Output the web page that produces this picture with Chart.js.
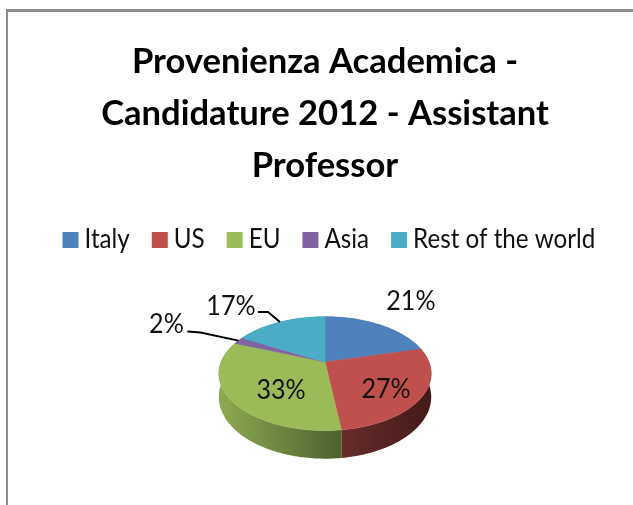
<!DOCTYPE html>
<html>
<head>
<meta charset="utf-8">
<script src="https://cdn.jsdelivr.net/npm/chart.js@4"></script>
<style>
    body { margin: 0; background: #fff; overflow: hidden; }
    #wrap { position: relative; width: 633px; height: 505px; filter: blur(0.6px); }
    #frame { position: absolute; left: 6px; top: 9px; right: 0; bottom: 0; border-left: 2px solid #8c8c8c; border-top: 3px solid #8c8c8c; }
    canvas { position: absolute; left: 0; top: 0; }
</style>
</head>
<body>
<div id="wrap">
    <div id="frame"></div>
    <canvas id="myChart" width="633" height="505"></canvas>
</div>
<script>
const titleLines = ['Provenienza Academica -', 'Candidature 2012 - Assistant', 'Professor'];
const categories = ['Italy', 'US', 'EU', 'Asia', 'Rest of the world'];
const shares = [21, 27, 33, 2, 17];
const colors = ['#4F81BD', '#C0504D', '#9BBB59', '#8064A2', '#4BACC6'];

/* side of the pie, left and right end of the gradient */
const wallLeft = ['#3b6090', '#662c2a', '#8eab52', '#5f4a79', '#367f93'];
const wallRight = ['#2c4668', '#431a19', '#4d602f', '#45355a', '#275c6b'];

/* label offset from the middle of the slice rim, then leader line bends */
const labelOffsets = [[31, -24], [-36, -7], [50, -10], [-72, -16], [-49, -16]];
const leaders = [null, null, null, [[-51, -9], [-38, -8]], [[-22, -10], [-12, -10]]];

/* tilt of the pie */
const squash = 0.525;
const persp = 0.2035;
const depth = 28;
const textFont = 'Lato, sans-serif';
const textSqueeze = 0.93;

function project(arc, angle, f) {
    const u = Math.cos(angle) * f;
    const v = Math.sin(angle) * f;
    const w = 1 / (1 - persp * v);
    return {
        x: arc.x + arc.outerRadius * u * w,
        y: arc.y + arc.outerRadius * squash * v * w,
        w: w
    };
}

function rimPoints(arc) {
    const pts = [];
    const steps = Math.max(2, Math.ceil((arc.endAngle - arc.startAngle) / 0.02));
    for (let i = 0; i <= steps; i++) {
        pts.push(project(arc, arc.startAngle + (arc.endAngle - arc.startAngle) * i / steps, 1));
    }
    return pts;
}

function squeezedText(ctx, str, x, y) {
    ctx.save();
    ctx.translate(x, y);
    ctx.scale(textSqueeze, 1);
    ctx.fillText(str, 0, 0);
    ctx.restore();
}

/* tilted 3d pie, drawn from the arcs the library has laid out */
const tiltedPie = {
    id: 'tiltedPie',
    beforeDatasetDraw(chart, args) {
        const ctx = chart.ctx;
        const arcs = args.meta.data;

        arcs.forEach((arc, i) => {
            const pts = rimPoints(arc);
            const xs = pts.map(p => p.x);
            const grad = ctx.createLinearGradient(Math.min(...xs), 0, Math.max(...xs), 0);
            grad.addColorStop(0, wallLeft[i]);
            grad.addColorStop(1, wallRight[i]);
            ctx.beginPath();
            pts.forEach((p, n) => n ? ctx.lineTo(p.x, p.y) : ctx.moveTo(p.x, p.y));
            pts.slice().reverse().forEach(p => ctx.lineTo(p.x, p.y + depth * p.w / 1.25));
            ctx.closePath();
            ctx.fillStyle = grad;
            ctx.fill();
        });

        arcs.forEach((arc, i) => {
            ctx.beginPath();
            ctx.moveTo(arc.x, arc.y);
            rimPoints(arc).forEach(p => ctx.lineTo(p.x, p.y));
            ctx.closePath();
            ctx.fillStyle = colors[i];
            ctx.strokeStyle = colors[i];
            ctx.lineWidth = 0.5;
            ctx.fill();
            ctx.stroke();
        });
        return false;
    },
    afterDraw(chart) {
        const ctx = chart.ctx;
        const arcs = chart.getDatasetMeta(0).data;
        ctx.save();
        ctx.font = '27px ' + textFont;
        ctx.textAlign = 'center';
        ctx.textBaseline = 'middle';
        arcs.forEach((arc, i) => {
            const mid = project(arc, (arc.startAngle + arc.endAngle) / 2, 1);
            ctx.fillStyle = '#111';
            squeezedText(ctx, shares[i] + '%', mid.x + labelOffsets[i][0], mid.y + labelOffsets[i][1]);
            if (leaders[i]) {
                ctx.beginPath();
                leaders[i].forEach((o, n) => {
                    if (n) ctx.lineTo(mid.x + o[0], mid.y + o[1]);
                    else ctx.moveTo(mid.x + o[0], mid.y + o[1]);
                });
                ctx.lineTo(mid.x, mid.y);
                ctx.strokeStyle = '#000';
                ctx.lineWidth = 2;
                ctx.stroke();
            }
        });
        ctx.restore();
    }
};

/* legend row, the built in one keeps too wide a gap after the box */
const legendRow = {
    id: 'legendRow',
    afterDraw(chart, args, opts) {
        const ctx = chart.ctx;
        ctx.save();
        ctx.font = opts.size + 'px ' + textFont;
        ctx.textAlign = 'left';
        ctx.textBaseline = 'middle';
        let x = opts.left;
        categories.forEach((name, i) => {
            ctx.fillStyle = colors[i];
            ctx.fillRect(x, opts.y - opts.box / 2, opts.box, opts.box);
            x += opts.box + opts.gap;
            ctx.fillStyle = '#111';
            squeezedText(ctx, name, x, opts.y);
            x += ctx.measureText(name).width * textSqueeze + opts.spacing;
        });
        ctx.restore();
    }
};

new Chart(document.getElementById('myChart'), {
    type: 'pie',
    data: {
        labels: categories,
        datasets: [{ data: shares, backgroundColor: colors, borderWidth: 0 }]
    },
    plugins: [tiltedPie, legendRow],
    options: {
        responsive: false,
        animation: false,
        layout: { padding: { left: 17, top: 0, right: 0, bottom: 39 } },
        plugins: {
            legend: { display: false },
            tooltip: { enabled: false },
            title: {
                display: true,
                text: titleLines,
                color: '#000',
                font: { family: textFont, size: 34.6, weight: 'bold', lineHeight: 1.503 },
                padding: { top: 36, bottom: 66 }
            },
            legendRow: { left: 62.5, y: 240, size: 26, box: 16, gap: 6, spacing: 22 }
        }
    }
});
</script>
</body>
</html>
